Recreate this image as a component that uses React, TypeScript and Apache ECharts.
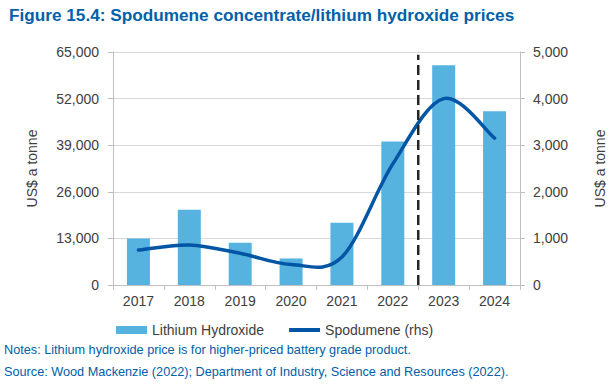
import React, { useEffect, useRef } from "react";
import * as echarts from "echarts";

const years = ["2017", "2018", "2019", "2020", "2021", "2022", "2023", "2024"];
const lithiumHydroxide = [13000, 21000, 11800, 7400, 17400, 40000, 61300, 48500];
const spodumene = [750, 860, 680, 440, 600, 2600, 4000, 3150];
const forecastBoundary = 6;

const FONT = "Liberation Sans, Arial, sans-serif";
const GREY = "#404040";
const BLUE_TEXT = "#0060A9";
const LINE_BLUE = "#0055A5";

function smoothPath(pts: number[][]): string {
  // Excel-like smoothed line: cubic Bezier with control points at 1/6 of neighbour difference
  if (pts.length === 0) return "";
  let d = `M${pts[0][0]},${pts[0][1]}`;
  for (let i = 0; i < pts.length - 1; i++) {
    const p0 = pts[Math.max(0, i - 1)];
    const p1 = pts[i];
    const p2 = pts[i + 1];
    const p3 = pts[Math.min(pts.length - 1, i + 2)];
    const c1x = p1[0] + (p2[0] - p0[0]) / 6;
    const c1y = p1[1] + (p2[1] - p0[1]) / 6;
    const c2x = p2[0] - (p3[0] - p1[0]) / 6;
    const c2y = p2[1] - (p3[1] - p1[1]) / 6;
    d += ` C${c1x},${c1y} ${c2x},${c2y} ${p2[0]},${p2[1]}`;
  }
  return d;
}

export default function App() {
  const ref = useRef<HTMLDivElement>(null);
  useEffect(() => {
    if (!ref.current) return;
    const chart = echarts.init(ref.current, undefined, { renderer: "svg" });
    chart.setOption({
      animation: false,
      textStyle: { fontFamily: FONT },
      title: {
        text: "Figure 15.4: Spodumene concentrate/lithium hydroxide prices",
        left: 4,
        top: 1,
        textStyle: { fontSize: 17.2, fontWeight: "bold", color: BLUE_TEXT, fontFamily: FONT },
      },
      graphic: [
        {
          type: "text",
          left: 4,
          top: 343,
          style: {
            text: "Notes: Lithium hydroxide price is for higher-priced battery grade product.",
            fill: BLUE_TEXT,
            font: "12.7px " + FONT,
          },
        },
        {
          type: "text",
          left: 4,
          top: 365,
          style: {
            text: "Source: Wood Mackenzie (2022); Department of Industry, Science and Resources (2022).",
            fill: BLUE_TEXT,
            font: "12.7px " + FONT,
          },
        },
      ],
      legend: {
        top: 323,
        left: 116,
        padding: 0,
        itemGap: 25,
        itemWidth: 31,
        itemHeight: 8,
        textStyle: { fontSize: 14, color: GREY, fontFamily: FONT },
        data: [
          { name: "Lithium Hydroxide", icon: "rect" },
          {
            name: "Spodumene (rhs)",
            icon: "path://M0,0 H31 V4 H0 Z",
            itemStyle: { color: LINE_BLUE, borderWidth: 0 },
          },
        ],
      },
      grid: { left: 113, right: 84, top: 52, bottom: 100 },
      xAxis: [
        {
          type: "category",
          data: years,
          boundaryGap: true,
          axisLine: { lineStyle: { color: "#BFBFBF" } },
          axisTick: { show: true, length: 5, lineStyle: { color: "#BFBFBF" } },
          axisLabel: { fontSize: 14, color: GREY, margin: 9 },
        },
        {
          type: "value",
          min: 0,
          max: years.length,
          show: false,
        },
      ],
      yAxis: [
        {
          type: "value",
          min: 0,
          max: 65000,
          interval: 13000,
          name: "US$ a tonne",
          nameLocation: "middle",
          nameGap: 74,
          nameTextStyle: { fontSize: 14, color: GREY },
          axisLine: { show: true, lineStyle: { color: "#BFBFBF" } },
          axisTick: { show: true, length: 5, lineStyle: { color: "#BFBFBF" } },
          axisLabel: {
            fontSize: 14,
            color: GREY,
            margin: 14,
            formatter: (v: number) => v.toLocaleString("en-US"),
          },
          splitLine: { lineStyle: { color: "#D9D9D9" } },
        },
        {
          type: "value",
          min: 0,
          max: 5000,
          interval: 1000,
          name: "US$ a tonne",
          nameLocation: "middle",
          nameGap: 73,
          nameRotate: 90,
          nameTextStyle: { fontSize: 14, color: GREY },
          axisLine: { show: true, lineStyle: { color: "#BFBFBF" } },
          axisTick: { show: true, length: 5, lineStyle: { color: "#BFBFBF" } },
          axisLabel: {
            fontSize: 14,
            color: GREY,
            margin: 13,
            formatter: (v: number) => v.toLocaleString("en-US"),
          },
          splitLine: { show: false },
        },
      ],
      series: [
        {
          name: "Lithium Hydroxide",
          type: "bar",
          data: lithiumHydroxide,
          barWidth: 23,
          itemStyle: { color: "#56B3E0" },
          xAxisIndex: 0,
          yAxisIndex: 0,
        },
        {
          name: "Spodumene (rhs)",
          type: "custom",
          xAxisIndex: 0,
          yAxisIndex: 1,
          data: spodumene.map((v, i) => [i, v]),
          encode: { x: 0, y: 1 },
          itemStyle: { color: LINE_BLUE },
          z: 3,
          silent: true,
          renderItem: (params: any, api: any) => {
            if (params.dataIndex !== 0) return null;
            const pts = spodumene.map((v, i) => api.coord([i, v]));
            return {
              type: "path",
              shape: { pathData: smoothPath(pts) },
              style: {
                fill: "none",
                stroke: LINE_BLUE,
                lineWidth: 3.5,
                lineCap: "round",
                lineJoin: "round",
              },
            };
          },
        },
        {
          name: "boundary",
          type: "line",
          data: [
            [forecastBoundary, 0],
            [forecastBoundary, 64200],
          ],
          symbol: "none",
          lineStyle: { color: "#262626", width: 2.5, type: [10, 5] },
          xAxisIndex: 1,
          yAxisIndex: 0,
          z: 4,
          silent: true,
        },
      ],
    });
    return () => chart.dispose();
  }, []);
  return (
    <div
      ref={ref}
      style={{ position: "absolute", left: 0, top: 0, width: 615, height: 385 }}
    />
  );
}
